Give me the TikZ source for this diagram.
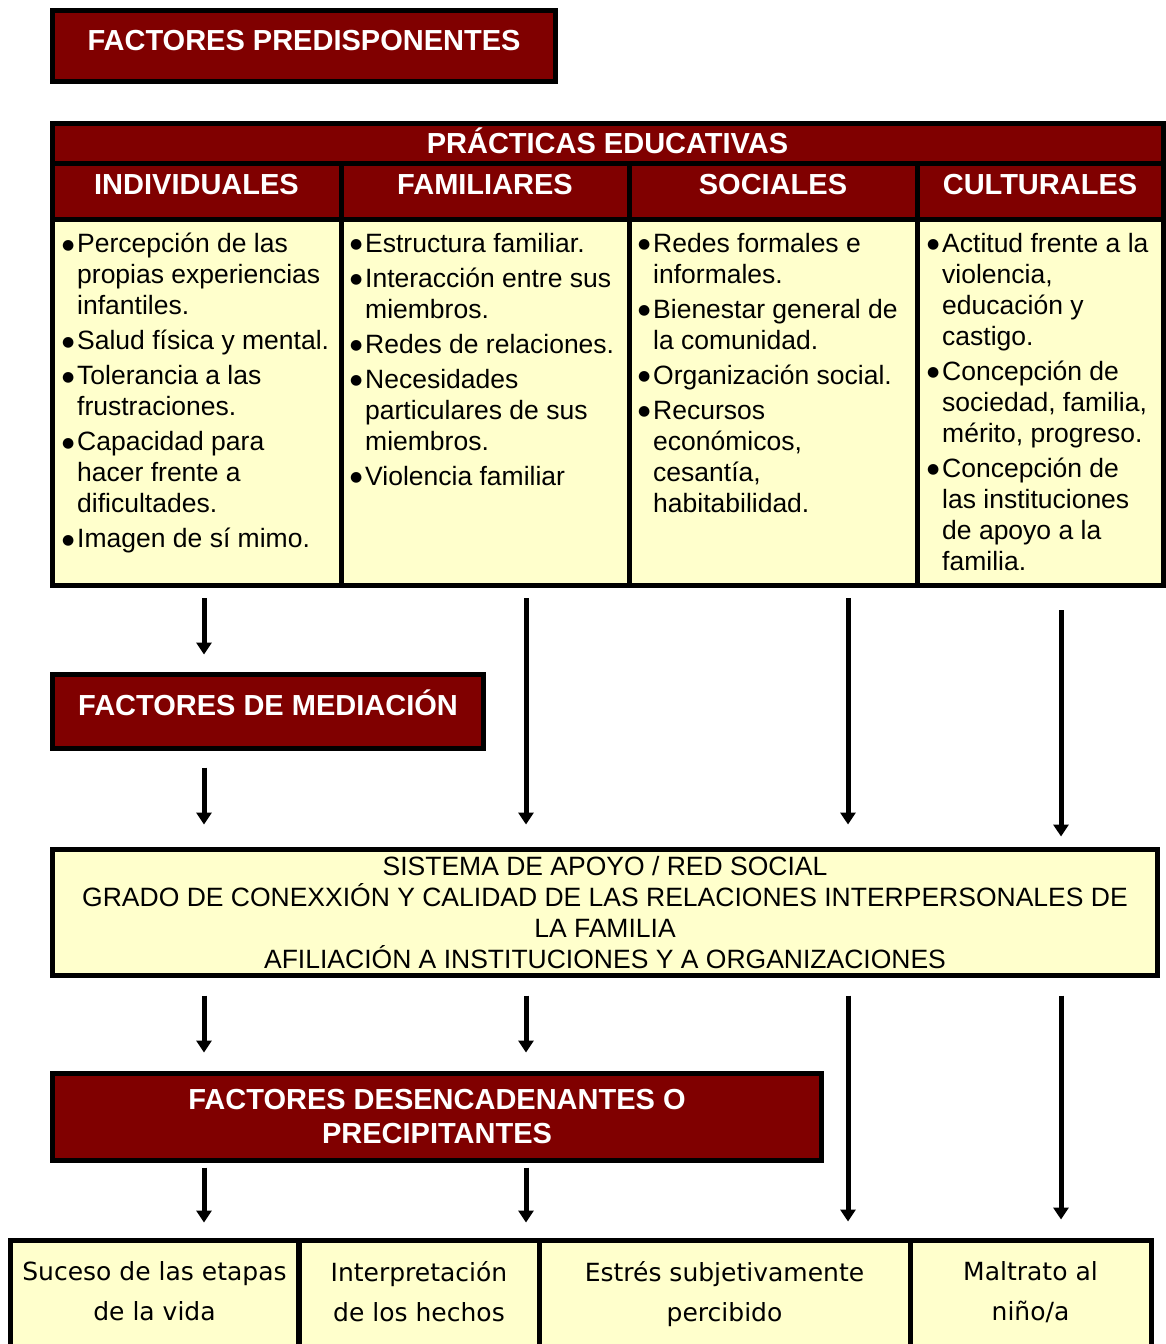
\documentclass[tikz,border=0pt]{standalone}
\usepackage{fontspec}
\setmainfont{Liberation Sans}
\newfontfamily\lucid{DejaVu Sans}
\usetikzlibrary{arrows.meta,positioning}
\definecolor{granate}{RGB}{128,0,0}
\definecolor{crema}{RGB}{255,255,204}
\newcommand{\bul}{\makebox[15pt][l]{\raisebox{3.5pt}{\lucid\fontsize{14}{14}\selectfont ●}}}
\newcommand{\ind}{\hspace*{15pt}}

\begin{document}
\begin{tikzpicture}[x=1pt,y=-1pt,
	rojo/.style={draw=black,line width=5pt,outer sep=0pt,fill=granate,text=white,inner sep=0pt,anchor=north west,font=\bfseries\fontsize{29}{34}\selectfont},
	rotulo/.style={rojo,text height=21pt,text depth=14pt},
	celda/.style={draw=black,line width=5pt,outer sep=0pt,fill=crema,inner sep=0pt,anchor=north west},
	lista/.style={anchor=north west,inner sep=0pt,align=left,font=\fontsize{26.5}{31}\selectfont},
	pie/.style={inner sep=0pt,align=center,font=\lucid\fontsize{25}{40}\selectfont},
	flecha/.style={line width=5pt,-{Triangle[width=15pt,length=12pt]}}]

\useasboundingbox (0,0) rectangle (1166,1344);
\clip (0,0) rectangle (1166,1344);

\node[rotulo,minimum width=503pt,minimum height=71pt,text depth=12pt] (pred) at (52.5,10.5) {FACTORES PREDISPONENTES};

% tabla
\node[rotulo,minimum width=1111pt,minimum height=40pt,text depth=0pt] (prac) at (52,123) {PRÁCTICAS EDUCATIVAS};
\foreach \nm/\xa/\an [count=\n] in {INDIVIDUALES/52/289pt, FAMILIARES/341/288pt, SOCIALES/629/288pt, CULTURALES/917/246pt}
	{
	\node[rotulo,minimum width=\an,minimum height=56pt] (h\n) at (\xa,163) {\nm};
	\node[celda,minimum width=\an,minimum height=366pt] (c\n) at (\xa,219) {};
	}

\node[lista,below right=14pt and 10pt of c1.north west] (t1) {\bul Percepción de las\\\ind propias experiencias\\\ind infantiles.\\[4pt]\bul Salud física y mental.\\[4pt]\bul Tolerancia a las\\\ind frustraciones.\\[4pt]\bul Capacidad para\\\ind hacer frente a\\\ind dificultades.\\[4pt]\bul Imagen de sí mimo.};
\node[lista,below right=14pt and 9pt of c2.north west] (t2) {\bul Estructura familiar.\\[4pt]\bul Interacción entre sus\\\ind miembros.\\[4pt]\bul Redes de relaciones.\\[4pt]\bul Necesidades\\\ind particulares de sus\\\ind miembros.\\[4pt]\bul Violencia familiar};
\node[lista,below right=14pt and 9pt of c3.north west] (t3) {\bul Redes formales e\\\ind informales.\\[4pt]\bul Bienestar general de\\\ind la comunidad.\\[4pt]\bul Organización social.\\[4pt]\bul Recursos\\\ind económicos,\\\ind cesantía,\\\ind habitabilidad.};
\node[lista,below right=14pt and 10pt of c4.north west] (t4) {\bul Actitud frente a la\\\ind violencia,\\\ind educación y\\\ind castigo.\\[4pt]\bul Concepción de\\\ind sociedad, familia,\\\ind mérito, progreso.\\[4pt]\bul Concepción de\\\ind las instituciones\\\ind de apoyo a la\\\ind familia.};

\node[rotulo,minimum width=431pt,minimum height=74pt,text depth=13pt] (med) at (52.5,674.5) {FACTORES DE MEDIACIÓN};

\node[celda,minimum width=1105pt,minimum height=126pt,align=center,font=\fontsize{26.5}{31}\selectfont] (apoyo) at (52.5,849.5) {SISTEMA DE APOYO / RED SOCIAL\\GRADO DE CONEXXIÓN Y CALIDAD DE LAS RELACIONES INTERPERSONALES DE\\LA FAMILIA\\AFILIACIÓN A INSTITUCIONES Y A ORGANIZACIONES};

\node[rojo,minimum width=769pt,minimum height=87pt,align=center] (prec) at (52.5,1073.5) {FACTORES DESENCADENANTES O\\PRECIPITANTES};

% cuadros de abajo
\foreach \xa/\an [count=\n] in {10.5/288pt, 299/240pt, 539/371pt, 910/241pt}
	\node[celda,minimum width=\an,minimum height=140pt] (b\n) at (\xa,1240.5) {};
\node[pie,below=21pt of b1.north] (p1) {Suceso de las etapas\\de la vida};
\node[pie,below=21pt of b2.north] (p2) {Interpretación\\de los hechos};
\node[pie,below=21pt of b3.north] (p3) {Estrés subjetivamente\\percibido};
\node[pie,below=21pt of b4.north] (p4) {Maltrato al\\niño/a};

% flechas
\foreach \xa [count=\n] in {204,526,848,1061}
	\coordinate (k\n) at (\xa,0);
\draw[flecha] ([yshift=-13pt]c1.south -| k1) -- ([yshift=20pt]med.north -| k1);
\draw[flecha] ([yshift=-19pt]med.south -| k1) -- ([yshift=25pt]apoyo.north -| k1);
\draw[flecha] ([yshift=-13pt]c2.south -| k2) -- ([yshift=25pt]apoyo.north -| k2);
\draw[flecha] ([yshift=-13pt]c3.south -| k3) -- ([yshift=25pt]apoyo.north -| k3);
\draw[flecha] ([yshift=-25pt]c4.south -| k4) -- ([yshift=13pt]apoyo.north -| k4);
\draw[flecha] ([yshift=-20pt]apoyo.south -| k1) -- ([yshift=21pt]prec.north -| k1);
\draw[flecha] ([yshift=-20pt]apoyo.south -| k2) -- ([yshift=21pt]prec.north -| k2);
\draw[flecha] ([yshift=-20pt]apoyo.south -| k3) -- ([yshift=19pt]b3.north -| k3);
\draw[flecha] ([yshift=-20pt]apoyo.south -| k4) -- ([yshift=21pt]b4.north -| k4);
\draw[flecha] ([yshift=-7pt]prec.south -| k1) -- ([yshift=18pt]b1.north -| k1);
\draw[flecha] ([yshift=-7pt]prec.south -| k2) -- ([yshift=18pt]b2.north -| k2);
\end{tikzpicture}
\end{document}
